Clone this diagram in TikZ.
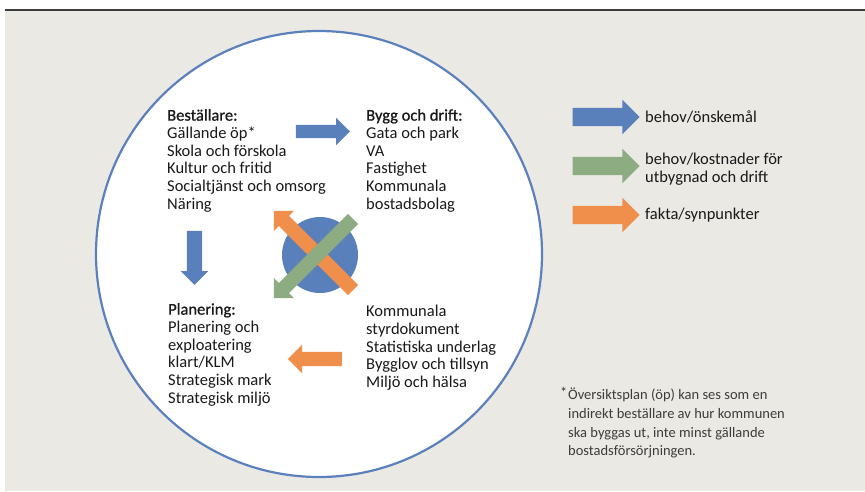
\documentclass[tikz,border=0pt]{standalone}
\usepackage{fontspec}
\setmainfont{Carlito}
\newfontface\headfont{Carlito}[FakeBold=0.8]
\usetikzlibrary{shapes.arrows}

\definecolor{panelgray}{RGB}{235,233,228}
\definecolor{ruledark}{RGB}{60,60,60}
\definecolor{ringblue}{RGB}{91,128,190}
\definecolor{arrblue}{RGB}{89,128,187}
\definecolor{arrgreen}{RGB}{141,172,130}
\definecolor{arrorange}{RGB}{240,142,75}
\definecolor{textblack}{RGB}{25,25,25}
\definecolor{notegray}{RGB}{60,60,60}

\begin{document}
\begin{tikzpicture}[x=1pt, y=-1pt,
  blockarr/.style = {single arrow, draw=none, inner xsep=0pt, inner ysep=7pt,
    outer sep=0pt, minimum width=0pt, single arrow head extend=7pt,
    minimum height=54},
  keyarr/.style = {blockarr, inner ysep=9pt, single arrow head extend=8pt,
    minimum height=67},
  crossarr/.style = {blockarr, minimum height=112},
  txt/.style = {align=left, inner sep=0pt, anchor=north west, text=textblack,
    font=\fontsize{16.5}{17.7}\selectfont},
  note/.style = {align=left, inner sep=0pt, text=notegray,
    font=\fontsize{14.5}{18.6}\selectfont}]
  \useasboundingbox (0,0) rectangle (865,491);

  % panel and rule on top
  \coordinate (pnw) at (5,10);
  \coordinate (pne) at (865,10);
  \fill[panelgray] (pnw) rectangle (865,491);
  \draw[ruledark, line width=1.6pt] (pnw) -- (pne);

  % the circle
  \node[circle, draw=ringblue, line width=2.2pt, fill=white,
    minimum size=446, inner sep=0pt] (ring) at (319,254) {};
  \node[circle, fill=arrblue, minimum size=76, inner sep=0pt] (hub) at (320,255) {};

  \node[crossarr, fill=arrorange, rotate=135] (fromfacts) at (316,253) {};
  \node[crossarr, fill=arrgreen, rotate=-135] (tocost) at (316,256) {};

  \node[blockarr, fill=arrblue, inner ysep=6.5pt] (toorder) at (319.5,131.5) {};
  \node[blockarr, fill=arrblue, inner ysep=7.5pt, single arrow head extend=6pt,
    rotate=-90] (toplan) at (194.5,254) {};
  \node[blockarr, fill=arrorange, rotate=180] (tofacts) at (318.5,359) {};

  % text blocks
  \node[txt] (orderer) at (167,109) {{\headfont Beställare:}\\Gällande öp*\\Skola och förskola\\
    Kultur och fritid\\Socialtjänst och omsorg\\Näring};
  \node[txt] (operation) at (366,109) {{\headfont Bygg och drift:}\\Gata och park\\VA\\Fastighet\\
    Kommunala\\bostadsbolag};
  \node[txt] (planning) at (168,303) {{\headfont Planering:}\\Planering och\\exploatering\\
    klart/KLM\\Strategisk mark\\Strategisk miljö};
  \node[txt] (facts) at (366,305) {Kommunala\\styrdokument\\Statistiska underlag\\
    Bygglov och tillsyn\\Miljö och hälsa};

  % legend
  \node[keyarr, fill=arrblue] (keyneed) at (601.5,117) {};
  \node[keyarr, fill=arrgreen] (keycost) at (601.5,166) {};
  \node[keyarr, fill=arrorange] (keyfact) at (601.5,215) {};
  \node[txt, anchor=base west] (needtxt) at (645,122) {behov/önskemål};
  \node[txt] (costtxt) at (645,153) {behov/kostnader för\\utbygnad och drift};
  \node[txt, anchor=base west] (facttxt) at (645,219) {fakta/synpunkter};

  % footnote
  \node[note, anchor=base west] (star) at (560,397) {*};
  \node[note, anchor=north west] (footnote) at (568,388) {Översiktsplan (öp) kan ses som en\\
    indirekt beställare av hur kommunen\\ska byggas ut, inte minst gällande\\
    bostadsförsörjningen.};
\end{tikzpicture}
\end{document}
